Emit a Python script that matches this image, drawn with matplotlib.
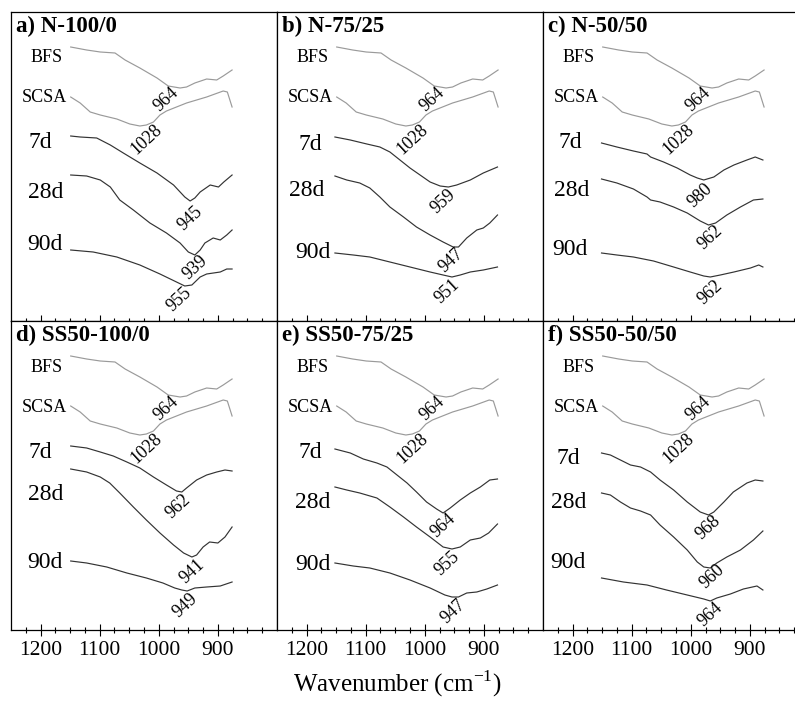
import matplotlib
matplotlib.use("Agg")
import matplotlib.pyplot as plt
from matplotlib.ticker import FixedLocator

plt.rcParams['font.family'] = ['Liberation Serif', 'DejaVu Serif']
plt.rcParams['mathtext.fontset'] = 'custom'
plt.rcParams['mathtext.rm'] = 'Liberation Serif'

# reference spectra (same in every panel)
bfs_wn = [1149, 1122, 1099, 1074, 1057, 1032, 1003, 984, 964, 953, 939, 919, 902, 891, 876]
bfs_y = [27.4, 27.1, 26.9, 26.8, 26.1, 25.3, 24.3, 23.5, 23.3, 23.4, 23.8, 24.2, 24.1, 24.5, 25.1]
scsa_wn = [1149, 1133, 1116, 1099, 1071, 1049, 1032, 1021, 1009, 998, 987, 953, 919, 891, 884, 876]
scsa_y = [22.4, 21.8, 20.9, 20.6, 20.2, 19.7, 19.5, 19.6, 19.9, 20.6, 21.0, 21.8, 22.4, 23.0, 22.9, 21.4]

# a) N-100/0
a_7d_wn = [1149, 1133, 1105, 1082, 1060, 1032, 1003, 975, 956, 947, 939, 930, 913, 899, 890, 876]
a_7d_y = [18.5, 18.4, 18.3, 17.6, 16.8, 15.8, 14.8, 13.6, 12.4, 12.0, 12.3, 12.9, 13.6, 13.4, 13.9, 14.6]
a_28d_wn = [1149, 1122, 1099, 1082, 1066, 1043, 1015, 987, 964, 950, 939, 930, 922, 908, 896, 885, 876]
a_28d_y = [14.6, 14.5, 14.1, 13.4, 12.1, 11.1, 9.8, 8.8, 7.8, 6.9, 6.6, 7.1, 7.8, 8.3, 8.1, 8.6, 9.1]
a_90d_wn = [1149, 1111, 1071, 1032, 998, 970, 956, 944, 930, 919, 896, 885, 876]
a_90d_y = [7.1, 6.9, 6.4, 5.6, 4.7, 3.9, 3.5, 3.6, 4.4, 4.7, 4.9, 5.2, 5.2]

# b) N-75/25
b_7d_wn = [1152, 1126, 1098, 1076, 1059, 1042, 1025, 1008, 991, 974, 960, 946, 923, 901, 877]
b_7d_y = [18.4, 18.1, 17.7, 17.4, 16.9, 16.1, 15.3, 14.6, 13.9, 13.5, 13.4, 13.6, 14.1, 14.8, 15.4]
b_28d_wn = [1152, 1132, 1110, 1093, 1076, 1059, 1036, 1014, 991, 969, 952, 943, 929, 912, 901, 890, 877]
b_28d_y = [14.5, 14.1, 13.8, 13.3, 12.4, 11.4, 10.4, 9.4, 8.6, 7.9, 7.4, 7.4, 8.3, 9.1, 9.3, 9.8, 10.6]
b_90d_wn = [1152, 1121, 1093, 1059, 1025, 991, 969, 954, 940, 923, 901, 877]
b_90d_y = [6.8, 6.6, 6.4, 5.9, 5.4, 4.9, 4.6, 4.4, 4.6, 4.9, 5.1, 5.4]

# c) N-50/50
c_7d_wn = [1151, 1125, 1097, 1074, 1068, 1046, 1023, 1001, 989, 978, 961, 944, 927, 905, 891, 878]
c_7d_y = [17.8, 17.4, 17.0, 16.7, 16.4, 15.9, 15.3, 14.6, 14.3, 14.1, 14.4, 15.1, 15.6, 16.1, 16.4, 16.1]
c_28d_wn = [1151, 1125, 1097, 1074, 1068, 1052, 1029, 1006, 984, 970, 958, 939, 916, 894, 878]
c_28d_y = [14.2, 13.8, 13.2, 12.4, 12.1, 11.9, 11.4, 10.8, 10.0, 9.6, 9.8, 10.6, 11.4, 12.1, 12.2]
c_90d_wn = [1151, 1125, 1097, 1063, 1029, 1001, 978, 967, 950, 927, 899, 885, 878]
c_90d_y = [6.8, 6.6, 6.4, 6.0, 5.4, 4.9, 4.5, 4.4, 4.6, 4.9, 5.3, 5.6, 5.4]

# d) SS50-100/0
d_7d_wn = [1149, 1122, 1099, 1077, 1054, 1032, 1009, 987, 970, 961, 953, 936, 919, 902, 888, 876]
d_7d_y = [18.4, 18.2, 17.8, 17.4, 16.8, 16.2, 15.3, 14.5, 13.9, 13.8, 14.2, 15.0, 15.5, 15.8, 16.0, 15.9]
d_28d_wn = [1149, 1122, 1099, 1083, 1066, 1043, 1021, 998, 975, 958, 944, 936, 925, 914, 900, 888, 876]
d_28d_y = [16.1, 15.8, 15.3, 14.7, 13.7, 12.3, 11.0, 9.7, 8.5, 7.7, 7.3, 7.5, 8.3, 8.8, 8.7, 9.3, 10.3]
d_90d_wn = [1149, 1122, 1088, 1054, 1021, 993, 973, 961, 952, 939, 919, 896, 876]
d_90d_y = [6.9, 6.7, 6.3, 5.7, 5.2, 4.7, 4.2, 4.0, 3.9, 4.2, 4.3, 4.4, 4.8]

# e) SS50-75/25
e_7d_wn = [1152, 1126, 1104, 1081, 1064, 1047, 1030, 1014, 997, 980, 969, 957, 940, 923, 906, 890, 877]
e_7d_y = [18.1, 17.7, 17.1, 16.7, 16.3, 15.5, 14.7, 13.8, 12.8, 12.1, 11.7, 12.2, 13.0, 13.7, 14.3, 15.0, 15.1]
e_28d_wn = [1152, 1132, 1110, 1081, 1059, 1036, 1014, 991, 969, 954, 940, 923, 906, 892, 877]
e_28d_y = [14.3, 14.0, 13.7, 13.2, 12.3, 11.3, 10.3, 9.3, 8.3, 8.1, 8.3, 9.0, 9.2, 9.7, 10.6]
e_90d_wn = [1152, 1121, 1093, 1059, 1025, 991, 966, 954, 943, 929, 912, 895, 877]
e_90d_y = [6.7, 6.4, 6.2, 5.7, 5.0, 4.2, 3.5, 3.3, 3.3, 3.7, 3.8, 4.1, 4.5]

# f) SS50-50/50
f_7d_wn = [1151, 1136, 1119, 1102, 1085, 1068, 1052, 1029, 1006, 984, 970, 961, 944, 928, 905, 891, 878]
f_7d_y = [17.7, 17.5, 17.0, 16.5, 16.3, 15.8, 15.0, 14.0, 12.8, 11.8, 11.5, 11.8, 12.8, 13.8, 14.7, 15.0, 14.9]
f_28d_wn = [1151, 1136, 1119, 1102, 1085, 1068, 1052, 1029, 1006, 989, 978, 967, 956, 939, 916, 894, 878]
f_28d_y = [13.7, 13.5, 12.8, 12.2, 11.9, 11.5, 10.5, 9.3, 8.0, 6.8, 6.3, 6.2, 6.7, 7.3, 8.0, 9.0, 9.9]
f_90d_wn = [1151, 1114, 1074, 1041, 1006, 978, 967, 956, 933, 911, 888, 878]
f_90d_y = [5.2, 4.8, 4.5, 4.0, 3.5, 3.1, 2.9, 3.2, 3.6, 4.1, 4.4, 4.0]

titles = ['a) N-100/0', 'b) N-75/25', 'c) N-50/50',
          'd) SS50-100/0', 'e) SS50-75/25', 'f) SS50-50/50']
ages = ['7d', '28d', '90d']
ref_peaks = ['964', '1028']
a_peaks = ['945', '939', '955']
b_peaks = ['959', '947', '951']
c_peaks = ['980', '962', '962']
d_peaks = ['962', '941', '949']
e_peaks = ['964', '955', '947']
f_peaks = ['968', '960', '964']

panels = [
    (a_7d_wn, a_7d_y, a_28d_wn, a_28d_y, a_90d_wn, a_90d_y, a_peaks),
    (b_7d_wn, b_7d_y, b_28d_wn, b_28d_y, b_90d_wn, b_90d_y, b_peaks),
    (c_7d_wn, c_7d_y, c_28d_wn, c_28d_y, c_90d_wn, c_90d_y, c_peaks),
    (d_7d_wn, d_7d_y, d_28d_wn, d_28d_y, d_90d_wn, d_90d_y, d_peaks),
    (e_7d_wn, e_7d_y, e_28d_wn, e_28d_y, e_90d_wn, e_90d_y, e_peaks),
    (f_7d_wn, f_7d_y, f_28d_wn, f_28d_y, f_90d_wn, f_90d_y, f_peaks),
]

# where the text sits in each panel (wavenumber, offset)
age_pos = [
    [(1201, 17.9), (1192, 12.8), (1192, 7.6)],
    [(1194, 17.6), (1199, 13.1), (1190, 6.8)],
    [(1204, 17.9), (1201, 13.1), (1204, 7.1)],
    [(1201, 17.8), (1192, 13.5), (1192, 6.8)],
    [(1194, 17.8), (1189, 12.8), (1189, 6.5)],
    [(1207, 17.2), (1207, 12.7), (1207, 6.7)],
]
peak_pos = [
    [(947, 10.2), (939, 5.3), (966, 2.1)],
    [(969, 11.9), (956, 6.0), (962, 3.0)],
    [(984, 12.5), (967, 8.3), (967, 2.8)],
    [(967, 12.3), (944, 5.9), (956, 2.4)],
    [(969, 10.4), (962, 6.6), (952, 1.8)],
    [(970, 10.2), (964, 5.3), (967, 1.5)],
]

fig = plt.figure(figsize=(7.95, 7.02), dpi=100)
W, H = 795.0, 702.0
lefts = [11, 277, 543]
tops = [12, 321]

for i, p in enumerate(panels):
    row, col = divmod(i, 3)
    ax = fig.add_axes([lefts[col] / W, 1 - (tops[row] + 309) / H, 266 / W, 309 / H])
    ax.set_xlim(1250, 800)
    ax.set_ylim(0, 30.9)

    ax.plot(bfs_wn, bfs_y, color='#9a9a9a', lw=0.85)
    ax.plot(scsa_wn, scsa_y, color='#9a9a9a', lw=0.85)
    for k in range(3):
        ax.plot(p[2 * k], p[2 * k + 1], color='#333333', lw=0.85)

    ax.text(1189, 26.3, 'BFS', fontsize=13, ha='center', va='center')
    ax.text(1193, 22.3, 'SCSA', fontsize=13, ha='center', va='center')
    ax.text(987, 22.1, ref_peaks[0], fontsize=13, rotation=43, ha='center', va='center')
    ax.text(1020, 18.2, ref_peaks[1], fontsize=13, rotation=43, ha='center', va='center')
    for k in range(3):
        x, y = age_pos[i][k]
        ax.text(x, y, ages[k], fontsize=17, ha='center', va='center')
        x, y = peak_pos[i][k]
        ax.text(x, y, p[6][k], fontsize=13, rotation=43, ha='center', va='center')

    ax.text(0.02, 0.952, titles[i], transform=ax.transAxes, fontsize=16.5,
            fontweight='bold', ha='left', va='center')

    ax.set_yticks([])
    ax.xaxis.set_major_locator(FixedLocator([1200, 1100, 1000, 900]))
    ax.xaxis.set_minor_locator(FixedLocator([1225, 1175, 1150, 1125, 1075, 1050, 1025,
                                             975, 950, 925, 875, 850, 825]))
    ax.tick_params(axis='x', which='major', direction='inout', length=8, width=0.8,
                   labelsize=15.5, pad=4)
    ax.tick_params(axis='x', which='minor', direction='inout', length=4, width=0.8)
    if row == 0:
        ax.tick_params(axis='x', labelbottom=False)
    for s in ax.spines.values():
        s.set_linewidth(0.9)

fig.text(0.5, 1 - 684 / H, 'Wavenumber (cm$^{\\mathregular{-1}}$)', fontsize=18,
         ha='center', va='center')

fig.savefig('out.png', dpi=100)
